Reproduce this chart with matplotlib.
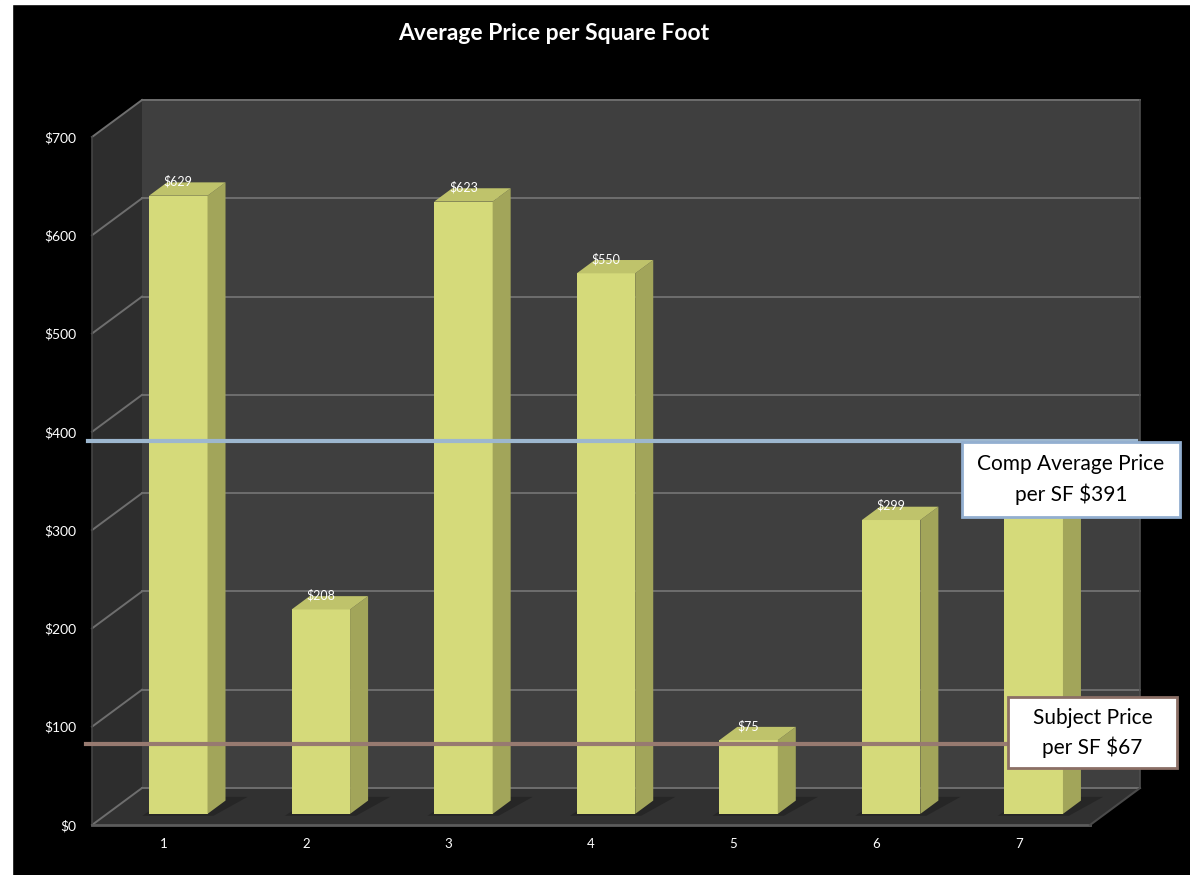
import matplotlib
matplotlib.use("Agg")
import matplotlib.pyplot as plt
from matplotlib.patches import Polygon, Rectangle
from matplotlib.lines import Line2D
from matplotlib.transforms import IdentityTransform

plt.rcParams["font.family"] = ["Lato", "DejaVu Sans"]

# data
categories = [1, 2, 3, 4, 5, 6, 7]
prices = [629, 208, 623, 550, 75, 299, 353]
# the 7th label is hidden behind the note box in the original
price_labels = ["$629", "$208", "$623", "$550", "$75", "$299", None]
y_ticks = [0, 100, 200, 300, 400, 500, 600, 700]
comp_avg = 391
subject_price = 67
subject_line_level = 82  # where the brown line sits on the wall

W, H, DPI = 1190, 875, 100
DEPTH_PX = (50, 37)     # front plane -> back wall
BAR_D0, BAR_D1 = 0.3, 0.66
BAR_W = 0.41

FRONT = "#d5da7a"
SIDE = "#a2a55a"
TOP = "#bfc36b"

fig = plt.figure(figsize=(W / DPI, H / DPI), dpi=DPI, facecolor="black")
# thin white page strips seen at the left / top of the original screenshot
fig.patches.append(Rectangle((0, 0), 12 / W, 1, transform=fig.transFigure,
                             color="white", zorder=-5))
fig.patches.append(Rectangle((0, 1 - 4 / H), 1, 4 / H, transform=fig.transFigure,
                             color="white", zorder=-5))

ax = fig.add_axes([92 / W, 50 / H, 998 / W, 688 / H])
ax.set_xlim(0.5, 7.5)
ax.set_ylim(0, 700)
ax.patch.set_visible(False)
for s in ax.spines.values():
    s.set_visible(False)
ax.set_xticks(categories)
ax.set_yticks(y_ticks)
ax.set_yticklabels([f"${v}" for v in y_ticks])
ax.tick_params(axis="y", colors="white", length=0, labelsize=10, pad=11)
ax.tick_params(axis="x", colors="white", length=0, labelsize=9.5, pad=9)


def proj(x, y, d):
    px, py = ax.transData.transform((x, y))
    return (px + d * DEPTH_PX[0], py + d * DEPTH_PX[1])


def poly(pts, color, z, ec="none", lw=0):
    ax.add_patch(Polygon([proj(*p) for p in pts], closed=True, facecolor=color,
                         edgecolor=ec, linewidth=lw, transform=IdentityTransform(),
                         clip_on=False, zorder=z))


def seg(p0, p1, color, lw, z):
    a, b = proj(*p0), proj(*p1)
    ax.add_line(Line2D([a[0], b[0]], [a[1], b[1]], color=color, linewidth=lw,
                       transform=IdentityTransform(), clip_on=False, zorder=z))


x0, x1 = 0.5, 7.5
top = y_ticks[-1]

# walls and floor
poly([(x0, 0, 1), (x1, 0, 1), (x1, top, 1), (x0, top, 1)], "#3f3f3f", 0.1)
poly([(x0, 0, 0), (x0, top, 0), (x0, top, 1), (x0, 0, 1)], "#2d2d2d", 0.1)
poly([(x0, 0, 0), (x1, 0, 0), (x1, 0, 1), (x0, 0, 1)], "#313131", 0.15)

for v in y_ticks:
    seg((x0, v, 1), (x1, v, 1), "#6e6e6e", 1.4, 0.2)
    seg((x0, v, 0), (x0, v, 1), "#6e6e6e", 1.4, 0.2)
seg((x1, 0, 1), (x1, top, 1), "#4e4e4e", 1.2, 0.2)
seg((x0, 0, 0), (x0, top, 0), "#444444", 1.2, 0.2)
seg((x0, 0, 0), (x1, 0, 0), "#5c5c5c", 2.0, 0.25)
seg((x1, 0, 0), (x1, 0, 1), "#4a4a4a", 1.5, 0.25)

# bars
for i, (c, v) in enumerate(zip(categories, prices)):
    l, r = c - BAR_W / 2, c + BAR_W / 2
    z = 1 + i * 0.01
    # soft shadow on the floor
    poly([(l - 0.03, 0, BAR_D0 - 0.05), (r + 0.06, 0, BAR_D0 - 0.05),
          (r + 0.12, 0, BAR_D1 + 0.1), (l, 0, BAR_D1 + 0.1)], "#262626", 0.3)
    poly([(l, 0, BAR_D0), (r, 0, BAR_D0), (r, v, BAR_D0), (l, v, BAR_D0)], FRONT, z)
    poly([(r, 0, BAR_D0), (r, 0, BAR_D1), (r, v, BAR_D1), (r, v, BAR_D0)], SIDE, z)
    poly([(l, v, BAR_D0), (r, v, BAR_D0), (r, v, BAR_D1), (l, v, BAR_D1)], TOP, z)
    if price_labels[i]:
        lx = proj(c, v, BAR_D0)[0]
        ly = proj(c, v, BAR_D1)[1]
        ax.text(lx, ly + 1, price_labels[i], transform=IdentityTransform(),
                ha="center", va="center", color="white", fontsize=9, zorder=2)

# reference lines
seg((0.47, comp_avg, 0), (7.82, comp_avg, 0), "#9db7cf", 3.0, 3)
seg((0.46, subject_line_level, 0), (7.3, subject_line_level, 0), "#977a70", 3.0, 3)


def note_box(x_left, y_top, w, h, edge, lines):
    ax.add_patch(Rectangle((x_left / W, 1 - (y_top + h) / H), w / W, h / H,
                           transform=fig.transFigure, facecolor="white",
                           edgecolor=edge, linewidth=2, clip_on=False, zorder=4))
    cx = (x_left + w / 2) / W
    step = 30
    y0 = y_top + h / 2 - step / 2 * (len(lines) - 1)
    for k, t in enumerate(lines):
        ax.text(cx, 1 - (y0 + k * step) / H, t, transform=fig.transFigure,
                ha="center", va="center", color="black", fontsize=15, zorder=5)


note_box(962, 442, 218, 75, "#93afd0",
         ["Comp Average Price", f"per SF ${comp_avg}"])
note_box(1008, 697, 169, 71, "#8b6f66",
         ["Subject Price", f"per SF ${subject_price}"])

fig.text(554 / W, 1 - 33 / H, "Average Price per Square Foot", ha="center",
         va="center", color="white", fontsize=16.5, fontweight="bold")

fig.savefig("out.png", dpi=DPI, facecolor=fig.get_facecolor())
